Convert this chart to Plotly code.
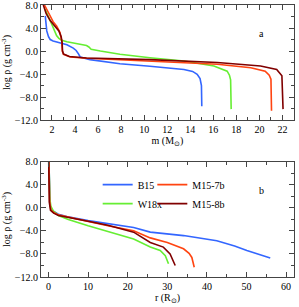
import plotly.graph_objects as go
from plotly.subplots import make_subplots

names = ["B15", "W18x", "M15-7b", "M15-8b"]
colors = ["#3366ff", "#66ee33", "#ff4411", "#800000"]

# Panel a: log rho vs m (Msun)
m_B15 = [1.42, 1.5, 1.55, 1.7, 1.85, 2.1, 2.7, 3.3, 3.85, 4.1, 4.3, 4.45, 5.3, 6.2, 7.9, 10.5, 12.0, 13.45, 14.2, 14.6, 14.85, 14.97, 15.0]
r_B15a = [6.1, 4.5, 3.5, 2.5, 2.0, 1.75, 1.45, 1.1, 0.5, 0.1, -0.5, -1.04, -1.5, -1.74, -2.2, -2.66, -2.9, -3.2, -3.55, -4.05, -4.8, -6.0, -9.6]
m_W18x = [1.4, 1.6, 1.8, 2.0, 2.2, 2.4, 2.6, 2.85, 3.3, 3.85, 4.5, 5.0, 5.2, 5.4, 6.2, 7.9, 10.5, 13.45, 16.05, 16.8, 17.2, 17.4, 17.5, 17.55]
r_W18xa = [7.3, 6.5, 5.5, 4.6, 3.6, 2.7, 2.2, 1.86, 1.6, 1.4, 1.15, 0.95, 0.7, 0.3, 0.0, -0.55, -1.16, -1.74, -2.6, -3.1, -3.5, -4.2, -5.0, -10.1]
m_M7 = [1.35, 1.6, 1.85, 2.1, 2.4, 2.7, 2.85, 2.9, 3.0, 3.6, 5.0, 7.05, 10.5, 13.5, 16.35, 19.25, 20.5, 20.85, 21.0, 21.05]
r_M7a = [8.0, 7.0, 6.1, 5.1, 4.35, 3.2, 1.74, 0.0, -0.57, -1.04, -1.25, -1.45, -1.8, -2.05, -2.3, -2.9, -3.5, -4.2, -4.9, -10.4]
m_M8 = [1.25, 1.5, 1.85, 2.3, 2.6, 2.8, 2.88, 2.92, 3.0, 3.5, 5.0, 10.5, 16.35, 20.1, 21.5, 21.95, 22.05]
r_M8a = [8.0, 6.5, 5.3, 4.3, 3.5, 2.5, 1.5, 0.0, -0.5, -0.95, -1.2, -1.5, -2.0, -2.6, -3.2, -4.3, -10.1]

# Panel b: log rho vs r (Rsun)
R_B15 = [0.1, 0.15, 0.25, 0.4, 0.8, 1.3, 2.5, 4.6, 10, 15, 21.5, 25.7, 34.1, 42.5, 47, 50.1, 53, 56]
d_B15 = [8.0, 5.0, 2.0, 0.4, -0.3, -0.6, -1.1, -1.5, -2.2, -2.7, -3.4, -4.2, -4.8, -5.7, -6.6, -7.4, -8.0, -8.7]
R_W18x = [0.1, 0.2, 0.35, 0.6, 1.2, 2.5, 5, 10, 15, 21.5, 25.7, 28.2, 29.5, 30.3]
d_W18x = [8.0, 4.0, 1.5, 0.3, -0.5, -1.3, -2.0, -3.1, -4.1, -5.4, -6.8, -7.4, -8.3, -9.7]
R_M7 = [0.1, 0.15, 0.3, 0.6, 1.3, 2.5, 5, 10, 15, 21.5, 25.7, 30, 34.1, 35.5, 36.2, 36.8]
d_M7 = [8.0, 4.0, 1.0, -0.3, -0.8, -1.2, -1.6, -2.4, -3.1, -3.95, -5.2, -6.0, -7.1, -7.9, -8.6, -10.3]
R_M8 = [0.05, 0.1, 0.2, 0.5, 1.3, 2.5, 5, 10, 15, 21.5, 25.7, 29, 30.7, 32]
d_M8 = [8.0, 4.0, 1.0, -0.4, -0.9, -1.3, -1.6, -2.3, -3.0, -4.2, -6.0, -6.8, -8.0, -10.0]

top_x = [m_B15, m_W18x, m_M7, m_M8]
top_y = [r_B15a, r_W18xa, r_M7a, r_M8a]
bot_x = [R_B15, R_W18x, R_M7, R_M8]
bot_y = [d_B15, d_W18x, d_M7, d_M8]
legends = ["legend", "legend", "legend2", "legend2"]

fig = make_subplots(rows=2, cols=1, vertical_spacing=0.154)
for i in range(4):
    fig.add_trace(go.Scatter(x=top_x[i], y=top_y[i], mode="lines", name=names[i],
                             line=dict(color=colors[i], width=1.6), showlegend=False), row=1, col=1)
for i in range(4):
    fig.add_trace(go.Scatter(x=bot_x[i], y=bot_y[i], mode="lines", name=names[i],
                             line=dict(color=colors[i], width=1.6), legend=legends[i]), row=2, col=1)

font = dict(family="Liberation Serif", size=10, color="black")
axcommon = dict(showgrid=False, zeroline=False, showline=True, linecolor="#444", linewidth=1,
                mirror="ticks", ticks="inside", ticklen=5, tickcolor="#444", tickfont=font,
                automargin=False, ticklabeloverflow="allow")
fig.update_xaxes(**axcommon)
fig.update_yaxes(**axcommon)
fig.update_xaxes(range=[1.05, 23], dtick=2, tick0=0, minor=dict(dtick=1, ticks="inside", ticklen=3, tickcolor="#444"),
                 title=dict(text="m (M<sub>⊙</sub>)", font=font, standoff=2), row=1, col=1)
fig.update_xaxes(range=[-1.9, 62], dtick=10, tick0=0, minor=dict(dtick=5, ticks="inside", ticklen=3, tickcolor="#444"),
                 title=dict(text="r (R<sub>⊙</sub>)", font=font, standoff=2), row=2, col=1)
for r in (1, 2):
    fig.update_yaxes(range=[-12, 8], dtick=4, tick0=0, tickformat=".1f",
                     minor=dict(dtick=2, ticks="inside", ticklen=3, tickcolor="#444"),
                     title=dict(text="log ρ (g cm<sup>-3</sup>)", font=font, standoff=4), row=r, col=1)

fig.add_annotation(text="a", xref="x domain", yref="y domain", x=0.89, y=0.82, showarrow=False, font=font)
fig.add_annotation(text="b", xref="x2 domain", yref="y2 domain", x=0.89, y=0.82, showarrow=False, font=font)

legfont = dict(family="Liberation Serif", size=10, color="black")
fig.update_layout(
    template="none",
    width=299, height=307, autosize=False,
    margin=dict(l=41, r=5, t=5, b=30, autoexpand=False),
    paper_bgcolor="white", plot_bgcolor="white",
    legend=dict(x=0.224, y=0.393, xanchor="left", yanchor="top", bgcolor="rgba(0,0,0,0)",
                font=legfont, tracegroupgap=0, itemwidth=30),
    legend2=dict(x=0.44, y=0.393, xanchor="left", yanchor="top", bgcolor="rgba(0,0,0,0)",
                 font=legfont, tracegroupgap=0, itemwidth=30),
)
fig.write_html("out.html", config={"displayModeBar": False},
               post_script="document.body.style.margin='0';")
